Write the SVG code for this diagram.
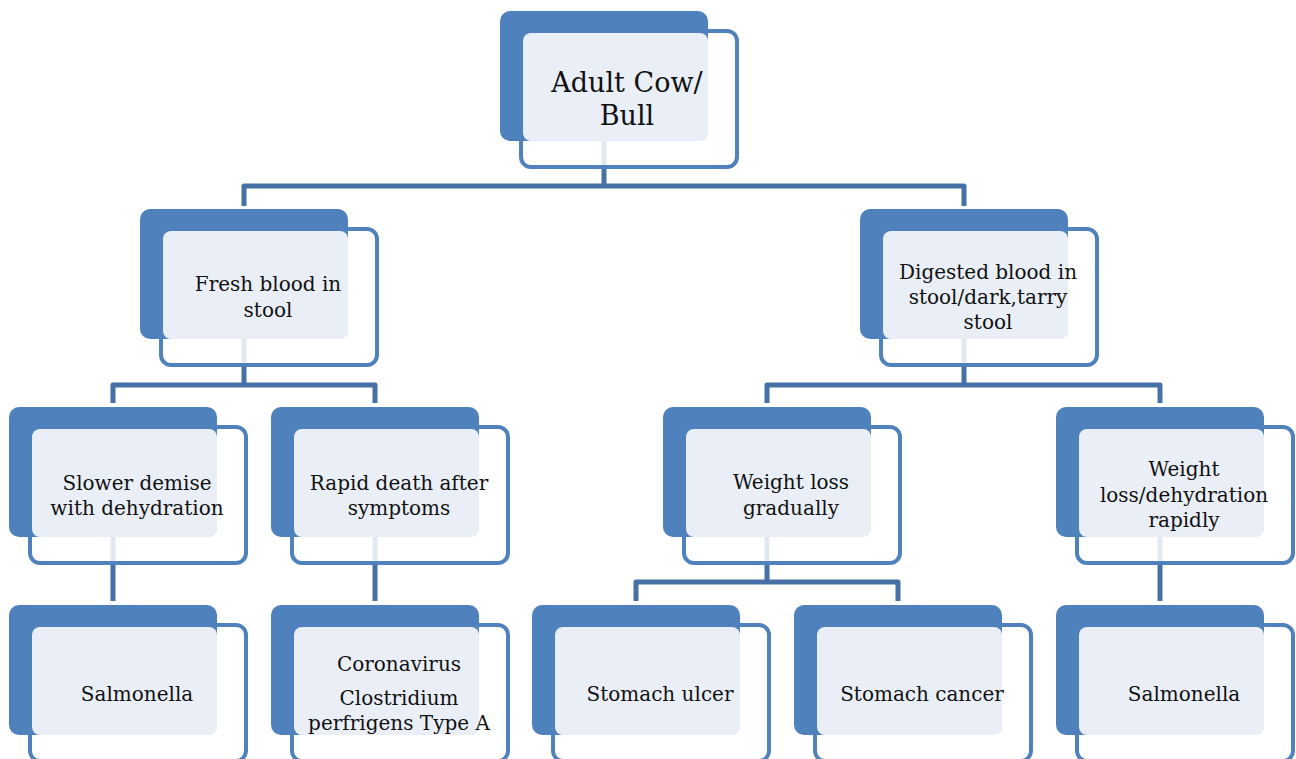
<svg xmlns="http://www.w3.org/2000/svg" width="1296" height="759" viewBox="0 0 1296 759">
<style>
.back{fill:#4f81bd}
.front{fill:#ffffff;stroke:#4f81bd;stroke-width:4}
.light{fill:#eaeff7}
.faint{stroke:#e3e8f0;stroke-width:5}
.conn{fill:none;stroke:#4571a6;stroke-width:5;stroke-linejoin:round}
text{font-family:"DejaVu Serif","Liberation Serif",serif;font-size:20px;fill:#111;text-anchor:middle}
.big{font-size:27px}
</style>
<rect width="1296" height="759" fill="#ffffff"/>
<g id="connectors">
<path class="conn" d="M604,166 V186"/>
<path class="conn" d="M244,206 V186 H964 V206"/>
<path class="conn" d="M244,364 V385"/>
<path class="conn" d="M113,403 V385 H375 V403"/>
<path class="conn" d="M964,364 V385"/>
<path class="conn" d="M767,403 V385 H1160 V403"/>
<path class="conn" d="M113,562 V601"/>
<path class="conn" d="M375,562 V601"/>
<path class="conn" d="M767,562 V582"/>
<path class="conn" d="M636,601 V582 H898 V601"/>
<path class="conn" d="M1160,562 V601"/>
</g>
<g id="n-adult">
<rect class="front" x="521" y="31" width="216" height="136" rx="10"/>
<rect class="back" x="500" y="11" width="208" height="130" rx="10"/>
<rect class="light" x="523" y="33" width="185" height="108" rx="8"/>
<line class="faint" x1="604" y1="141" x2="604" y2="165"/>
<text class="big" x="627" y="92">Adult Cow/</text>
<text class="big" x="627" y="125">Bull</text>
</g>
<g id="n-fresh">
<rect class="front" x="161" y="229" width="216" height="136" rx="10"/>
<rect class="back" x="140" y="209" width="208" height="130" rx="10"/>
<rect class="light" x="163" y="231" width="185" height="108" rx="8"/>
<line class="faint" x1="244" y1="339" x2="244" y2="363"/>
<text x="268" y="291">Fresh blood in</text>
<text x="268" y="317">stool</text>
</g>
<g id="n-digested">
<rect class="front" x="881" y="229" width="216" height="136" rx="10"/>
<rect class="back" x="860" y="209" width="208" height="130" rx="10"/>
<rect class="light" x="883" y="231" width="185" height="108" rx="8"/>
<line class="faint" x1="964" y1="339" x2="964" y2="363"/>
<text x="988" y="279">Digested blood in</text>
<text x="988" y="304">stool/dark,tarry</text>
<text x="988" y="329">stool</text>
</g>
<g id="n-slower">
<rect class="front" x="30" y="427" width="216" height="136" rx="10"/>
<rect class="back" x="9" y="407" width="208" height="130" rx="10"/>
<rect class="light" x="32" y="429" width="185" height="108" rx="8"/>
<line class="faint" x1="113" y1="537" x2="113" y2="561"/>
<text x="137" y="490">Slower demise</text>
<text x="137" y="515">with dehydration</text>
</g>
<g id="n-rapid">
<rect class="front" x="292" y="427" width="216" height="136" rx="10"/>
<rect class="back" x="271" y="407" width="208" height="130" rx="10"/>
<rect class="light" x="294" y="429" width="185" height="108" rx="8"/>
<line class="faint" x1="375" y1="537" x2="375" y2="561"/>
<text x="399" y="490">Rapid death after</text>
<text x="399" y="515">symptoms</text>
</g>
<g id="n-wlgradual">
<rect class="front" x="684" y="427" width="216" height="136" rx="10"/>
<rect class="back" x="663" y="407" width="208" height="130" rx="10"/>
<rect class="light" x="686" y="429" width="185" height="108" rx="8"/>
<line class="faint" x1="767" y1="537" x2="767" y2="561"/>
<text x="791" y="489">Weight loss</text>
<text x="791" y="515">gradually</text>
</g>
<g id="n-wlrapid">
<rect class="front" x="1077" y="427" width="216" height="136" rx="10"/>
<rect class="back" x="1056" y="407" width="208" height="130" rx="10"/>
<rect class="light" x="1079" y="429" width="185" height="108" rx="8"/>
<line class="faint" x1="1160" y1="537" x2="1160" y2="561"/>
<text x="1184" y="476">Weight</text>
<text x="1184" y="502">loss/dehydration</text>
<text x="1184" y="527">rapidly</text>
</g>
<g id="n-salmonella1">
<rect class="front" x="30" y="625" width="216" height="136" rx="10"/>
<rect class="back" x="9" y="605" width="208" height="130" rx="10"/>
<rect class="light" x="32" y="627" width="185" height="108" rx="8"/>
<text x="137" y="701">Salmonella</text>
</g>
<g id="n-corona">
<rect class="front" x="292" y="625" width="216" height="136" rx="10"/>
<rect class="back" x="271" y="605" width="208" height="130" rx="10"/>
<rect class="light" x="294" y="627" width="185" height="108" rx="8"/>
<text x="399" y="671">Coronavirus</text>
<text x="399" y="705">Clostridium</text>
<text x="399" y="730">perfrigens Type A</text>
</g>
<g id="n-ulcer">
<rect class="front" x="553" y="625" width="216" height="136" rx="10"/>
<rect class="back" x="532" y="605" width="208" height="130" rx="10"/>
<rect class="light" x="555" y="627" width="185" height="108" rx="8"/>
<text x="660" y="701">Stomach ulcer</text>
</g>
<g id="n-cancer">
<rect class="front" x="815" y="625" width="216" height="136" rx="10"/>
<rect class="back" x="794" y="605" width="208" height="130" rx="10"/>
<rect class="light" x="817" y="627" width="185" height="108" rx="8"/>
<text x="922" y="701">Stomach cancer</text>
</g>
<g id="n-salmonella2">
<rect class="front" x="1077" y="625" width="216" height="136" rx="10"/>
<rect class="back" x="1056" y="605" width="208" height="130" rx="10"/>
<rect class="light" x="1079" y="627" width="185" height="108" rx="8"/>
<text x="1184" y="701">Salmonella</text>
</g>
</svg>
